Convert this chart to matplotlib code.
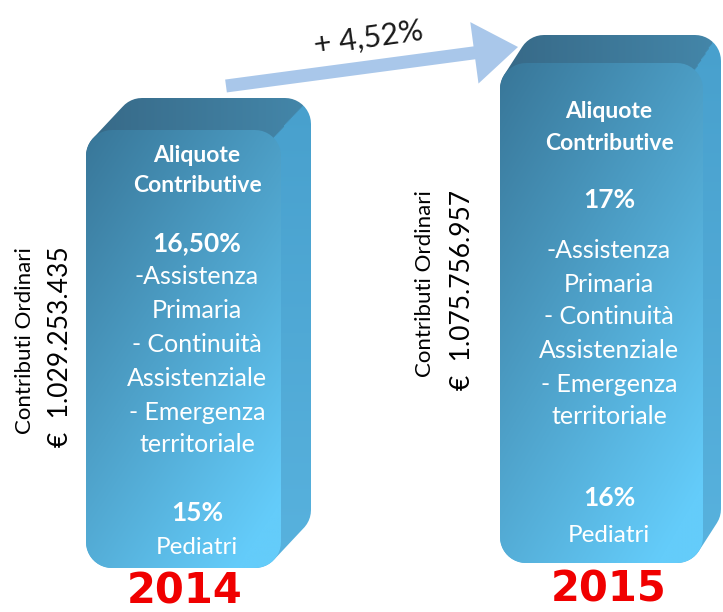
import numpy as np
import matplotlib
matplotlib.use("Agg")
import matplotlib.pyplot as plt
import matplotlib.patches as mpatches

# data
years = ["2014", "2015"]
contributi = ["€  1.029.253.435", "€  1.075.756.957"]
aliquota_mg = ["16,50%", "17%"]
aliquota_ped = ["15%", "16%"]
variazione = "+ 4,52%"
voci_mg = ["-Assistenza", "Primaria", "- Continuità", "Assistenziale",
           "- Emergenza", "territoriale"]

# box geometry (pixels): front face x0, y0, x1, y1 and depth offset
boxes = [(86, 130, 281, 568, 30, -32), (500, 63, 703, 563, 18, -28)]
# text rows inside the boxes (y positions)
rows = [
    dict(cx=197, title=(155, 185), pct=243, voci=[277, 311, 345, 379, 412, 445],
         ped=(513, 548), lab_x=(25, 60), lab_y=(341, 347), year=(185, 603)),
    dict(cx=609, title=(112, 143), pct=200, voci=[250, 284, 317, 351, 384, 416],
         ped=(498, 535), lab_x=(425, 462), lab_y=(284, 290), year=(609, 601)),
]

FONT = ["Lato", "DejaVu Sans"]


def rrect_pts(x0, y0, x1, y1, r, n=12):
    pts = []
    corners = [(x1 - r, y0 + r, -90, 0), (x1 - r, y1 - r, 0, 90),
               (x0 + r, y1 - r, 90, 180), (x0 + r, y0 + r, 180, 270)]
    for cx, cy, a0, a1 in corners:
        a = np.radians(np.linspace(a0, a1, n))
        pts += list(zip(cx + r * np.cos(a), cy + r * np.sin(a)))
    return np.array(pts)


def hull(points):
    pts = sorted(set(map(tuple, np.round(points, 3))))
    def cross(o, a, b):
        return (a[0] - o[0]) * (b[1] - o[1]) - (a[1] - o[1]) * (b[0] - o[0])
    lower, upper = [], []
    for p in pts:
        while len(lower) >= 2 and cross(lower[-2], lower[-1], p) <= 0:
            lower.pop()
        lower.append(p)
    for p in reversed(pts):
        while len(upper) >= 2 and cross(upper[-2], upper[-1], p) <= 0:
            upper.pop()
        upper.append(p)
    return np.array(lower[:-1] + upper[:-1])


fig = plt.figure(figsize=(7.23, 6.12), dpi=100)
ax = fig.add_axes([0, 0, 1, 1])
ax.set_xlim(0, 723)
ax.set_ylim(612, 0)
ax.axis("off")

top_c0 = np.array([55, 105, 135]) / 255
top_c1 = np.array([68, 135, 170]) / 255
side_c0 = np.array([72, 160, 205]) / 255
side_c1 = np.array([88, 178, 222]) / 255
front_c0 = np.array([56, 118, 152]) / 255
front_c1 = np.array([100, 204, 250]) / 255

for (x0, y0, x1, y1, dx, dy) in boxes:
    r = 26
    front = rrect_pts(x0, y0, x1, y1, r)
    back = front + np.array([dx, dy])
    hp = hull(np.vstack([front, back]))

    # extrusion (top + right side)
    bx0, bx1 = x0, x1 + dx
    by0, by1 = y0 + dy, y1
    X, Y = np.meshgrid(np.linspace(bx0, bx1, 200), np.linspace(by0, by1, 400))
    topness = (y0 + 10 - Y) / (-dy)
    sideness = (X - (x1 - 10)) / dx
    u = (X - bx0) / (bx1 - bx0)
    v = (Y - by0) / (by1 - by0)
    topcol = top_c0 + (top_c1 - top_c0) * u[..., None]
    sidecol = side_c0 + (side_c1 - side_c0) * v[..., None]
    img = np.where((sideness > topness)[..., None], sidecol, topcol)
    poly = mpatches.Polygon(hp, closed=True, facecolor="none", edgecolor="none")
    ax.add_patch(poly)
    im = ax.imshow(img, extent=(bx0, bx1, by1, by0), origin="upper",
                   interpolation="bilinear", zorder=1)
    im.set_clip_path(poly)

    # front face
    X, Y = np.meshgrid(np.linspace(0, 1, 200), np.linspace(0, 1, 400))
    t = np.clip(0.45 * X + 0.65 * Y, 0, 1)
    img = front_c0 + (front_c1 - front_c0) * t[..., None]
    fpoly = mpatches.Polygon(front, closed=True, facecolor="none", edgecolor="none")
    ax.add_patch(fpoly)
    im = ax.imshow(img, extent=(x0, x1, y1, y0), origin="upper",
                   interpolation="bilinear", zorder=2)
    im.set_clip_path(fpoly)

ax.set_xlim(0, 723)
ax.set_ylim(612, 0)

# arrow between the two years
arrow = mpatches.FancyArrow(226, 86, 292, -39, width=13, head_width=62,
                            head_length=44, length_includes_head=True,
                            facecolor="#a9c7ea", edgecolor="none", zorder=3)
ax.add_patch(arrow)
ax.text(369, 38, variazione, rotation=8, ha="center", va="center",
        fontsize=22, color="#1a1a1a", family=FONT, zorder=4)

for i, rw in enumerate(rows):
    cx = rw["cx"]
    kw = dict(ha="center", va="center", color="white", family=FONT, zorder=5)
    ax.text(cx, rw["title"][0], "Aliquote", fontsize=16.5, fontweight="bold", **kw)
    ax.text(cx, rw["title"][1], "Contributive", fontsize=16.5, fontweight="bold", **kw)
    ax.text(cx, rw["pct"], aliquota_mg[i], fontsize=19, fontweight="bold", **kw)
    for yy, s in zip(rw["voci"], voci_mg):
        ax.text(cx, yy, s, fontsize=18, **kw)
    ax.text(cx, rw["ped"][0], aliquota_ped[i], fontsize=19, fontweight="bold", **kw)
    ax.text(cx, rw["ped"][1], "Pediatri", fontsize=17.5, **kw)

    ax.text(rw["lab_x"][0], rw["lab_y"][0], "Contributi Ordinari", rotation=90,
            ha="center", va="center", fontsize=16, color="black", family=FONT)
    ax.text(rw["lab_x"][1], rw["lab_y"][1], contributi[i], rotation=90,
            ha="center", va="center", fontsize=19, color="black", family=FONT)
    ax.text(rw["year"][0], rw["year"][1], years[i], ha="center", va="baseline",
            fontsize=30, fontweight="bold", color="#f00000", family="DejaVu Sans")

fig.savefig("out.png", dpi=100)
